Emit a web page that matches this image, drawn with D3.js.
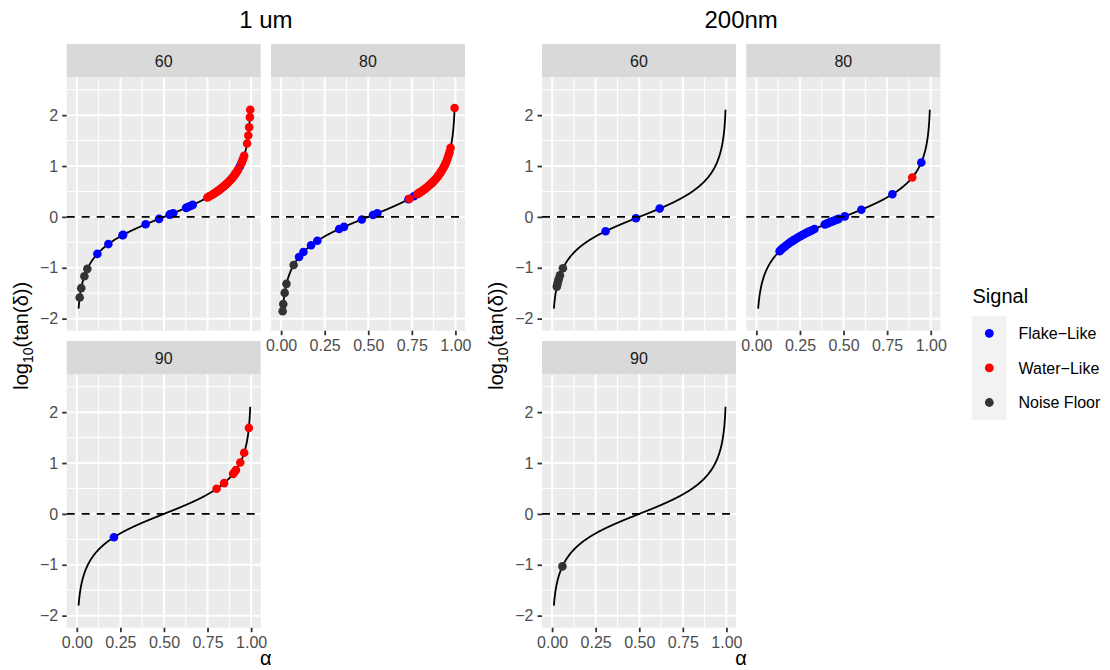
<!DOCTYPE html>
<html>
<head>
<meta charset="utf-8">
<script src="https://cdn.jsdelivr.net/npm/d3@7"></script>
<style>
  body { margin: 0; background: #fff; }
  svg { display: block; }
  text { font-family: "Liberation Sans", Arial, Helvetica, sans-serif; }
</style>
</head>
<body>
<svg id="chart" width="1110" height="670"></svg>
<script>
// ---- data -------------------------------------------------------------
const groups = ["1 um", "200nm"];
const facets = ["60", "80", "90"];
const signals = ["Flake\u2212Like", "Water\u2212Like", "Noise Floor"];
const signalColors = ["#0000FF", "#FF0000", "#333333"];

const xTicks = [0, 0.25, 0.5, 0.75, 1];
const xMinor = [0.125, 0.375, 0.625, 0.875];
const yTicks = [-2, -1, 0, 1, 2];
const yMinor = [-1.5, -0.5, 0.5, 1.5, 2.5];

// model curve range in alpha
const curveStart = 0.01;
const curveEnd = 0.995;

// observed alpha values for each group / angle / signal
const um1_60_flake = [0.118, 0.181, 0.262, 0.266, 0.395, 0.472, 0.532, 0.540, 0.553, 0.627, 0.640, 0.655, 0.665, 0.828, 0.935];
const um1_60_water = [0.749, 0.760, 0.771, 0.782, 0.791, 0.800, 0.808, 0.815, 0.820, 0.837, 0.843, 0.850, 0.856, 0.861, 0.868, 0.873, 0.880, 0.886, 0.891, 0.897, 0.902, 0.908, 0.912, 0.917, 0.922, 0.926, 0.943, 0.947, 0.951, 0.955, 0.960, 0.977, 0.984, 0.989, 0.993, 0.995];
const um1_60_noise = [0.0166, 0.0253, 0.0434, 0.0604];

const um1_80_flake = [0.103, 0.128, 0.172, 0.208, 0.333, 0.361, 0.463, 0.527, 0.552, 0.731, 0.762];
const um1_80_water = [0.736, 0.781, 0.786, 0.793, 0.798, 0.805, 0.811, 0.816, 0.823, 0.828, 0.834, 0.841, 0.846, 0.852, 0.857, 0.864, 0.869, 0.875, 0.882, 0.887, 0.893, 0.899, 0.904, 0.911, 0.916, 0.922, 0.928, 0.933, 0.939, 0.944, 0.950, 0.955, 0.961, 0.966, 0.972, 0.9954];
const um1_80_noise = [0.0089, 0.0123, 0.0204, 0.0307, 0.072];

const um1_90_flake = [0.213];
const um1_90_water = [0.802, 0.845, 0.897, 0.905, 0.913, 0.938, 0.960, 0.987];
const um1_90_noise = [];

const nm200_60_flake = [0.307, 0.481, 0.617];
const nm200_60_water = [];
const nm200_60_noise = [0.027, 0.029, 0.033, 0.038, 0.045, 0.062];

const nm200_80_flake = [0.133, 0.141, 0.149, 0.158, 0.166, 0.176, 0.184, 0.195, 0.203, 0.214, 0.222, 0.233, 0.241, 0.252, 0.261, 0.272, 0.280, 0.291, 0.299, 0.310, 0.319, 0.333, 0.392, 0.401, 0.411, 0.419, 0.430, 0.439, 0.449, 0.461, 0.472, 0.507, 0.602, 0.780, 0.946];
const nm200_80_water = [0.894];
const nm200_80_noise = [];

const nm200_90_flake = [];
const nm200_90_water = [];
const nm200_90_noise = [0.059];

const pointSets = {
  "1 um": {
    "60": [um1_60_flake, um1_60_water, um1_60_noise],
    "80": [um1_80_flake, um1_80_water, um1_80_noise],
    "90": [um1_90_flake, um1_90_water, um1_90_noise]
  },
  "200nm": {
    "60": [nm200_60_flake, nm200_60_water, nm200_60_noise],
    "80": [nm200_80_flake, nm200_80_water, nm200_80_noise],
    "90": [nm200_90_flake, nm200_90_water, nm200_90_noise]
  }
};

// loss tangent model: delta = alpha * 90 degrees
const logTanDelta = a => Math.log10(Math.tan(a * Math.PI / 2));

// ---- layout -----------------------------------------------------------
const PANEL_W = 194, PANEL_H = 253.2, STRIP_H = 33.5, GAP = 10.3, TOP = 44;
const groupLeft = { "1 um": 66.7, "200nm": 542 };
const facetCell = { "60": [0, 0], "80": [1, 0], "90": [0, 1] };

const x = d3.scaleLinear().domain([-0.058, 1.055]).range([0, PANEL_W]);
const y = d3.scaleLinear().domain([-2.237, 2.74]).range([PANEL_H, 0]);

const svg = d3.select("#chart");
const minus = v => (v < 0 ? "\u2212" + Math.abs(v) : String(v));

const curveData = d3.range(0, 401).map(i => curveStart + (curveEnd - curveStart) * i / 400);
const line = d3.line().x(a => x(a)).y(a => y(logTanDelta(a)));

groups.forEach(g => {
  const gx = groupLeft[g];
  const groupW = 2 * PANEL_W + GAP;

  // group title
  svg.append("text")
    .attr("x", gx + groupW / 2).attr("y", 28)
    .attr("text-anchor", "middle")
    .attr("font-size", 24).attr("fill", "#000")
    .text(g);

  facets.forEach(f => {
    const [c, r] = facetCell[f];
    const px = gx + c * (PANEL_W + GAP);
    const sy = TOP + r * (STRIP_H + PANEL_H + GAP);
    const py = sy + STRIP_H;

    // strip
    svg.append("rect").attr("x", px).attr("y", sy)
      .attr("width", PANEL_W).attr("height", STRIP_H).attr("fill", "#D9D9D9");
    svg.append("text").attr("x", px + PANEL_W / 2).attr("y", sy + STRIP_H / 2)
      .attr("dy", "0.36em").attr("text-anchor", "middle")
      .attr("font-size", 16).attr("fill", "#1A1A1A").text(f);

    const p = svg.append("g").attr("transform", `translate(${px},${py})`);
    p.append("rect").attr("width", PANEL_W).attr("height", PANEL_H).attr("fill", "#EBEBEB");

    // grid
    p.selectAll(".xminor").data(xMinor).join("line")
      .attr("x1", d => x(d)).attr("x2", d => x(d)).attr("y1", 0).attr("y2", PANEL_H)
      .attr("stroke", "#fff").attr("stroke-width", 1);
    p.selectAll(".yminor").data(yMinor).join("line")
      .attr("y1", d => y(d)).attr("y2", d => y(d)).attr("x1", 0).attr("x2", PANEL_W)
      .attr("stroke", "#fff").attr("stroke-width", 1);
    p.selectAll(".xmajor").data(xTicks).join("line")
      .attr("x1", d => x(d)).attr("x2", d => x(d)).attr("y1", 0).attr("y2", PANEL_H)
      .attr("stroke", "#fff").attr("stroke-width", 2);
    p.selectAll(".ymajor").data(yTicks).join("line")
      .attr("y1", d => y(d)).attr("y2", d => y(d)).attr("x1", 0).attr("x2", PANEL_W)
      .attr("stroke", "#fff").attr("stroke-width", 2);

    // model curve
    p.append("path").datum(curveData).attr("d", line)
      .attr("fill", "none").attr("stroke", "#000").attr("stroke-width", 1.8);

    // points: flake, water, noise
    pointSets[g][f].forEach((vals, si) => {
      p.selectAll(null).data(vals).join("circle")
        .attr("cx", a => x(a)).attr("cy", a => y(logTanDelta(a)))
        .attr("r", 4.3).attr("fill", signalColors[si]);
    });

    // zero reference
    p.append("line").attr("x1", 0).attr("x2", PANEL_W).attr("y1", y(0)).attr("y2", y(0))
      .attr("stroke", "#000").attr("stroke-width", 1.9).attr("stroke-dasharray", "8,7");

    // axes
    const styleAxis = ax => {
      ax.select(".domain").remove();
      ax.selectAll(".tick line").attr("stroke", "#333333").attr("stroke-width", 1.8);
      ax.selectAll(".tick text").attr("fill", "#4D4D4D").attr("font-size", 16)
        .attr("font-family", "\"Liberation Sans\", Arial, Helvetica, sans-serif");
    };
    if (c === 0) {
      p.append("g").call(d3.axisLeft(y).tickValues(yTicks).tickSize(4.5).tickPadding(4).tickFormat(minus))
        .call(styleAxis);
    }
    if (f === "80" || f === "90") {
      p.append("g").attr("transform", `translate(0,${PANEL_H})`)
        .call(d3.axisBottom(x).tickValues(xTicks).tickSize(4.5).tickPadding(4).tickFormat(d3.format(".2f")))
        .call(styleAxis);
    }
  });

  // axis titles
  const yt = svg.append("text")
    .attr("transform", `translate(${gx - 39},${(TOP + 627.7) / 2}) rotate(-90)`)
    .attr("text-anchor", "middle").attr("font-size", 20).attr("fill", "#000");
  yt.append("tspan").text("log");
  yt.append("tspan").attr("font-size", 14).attr("dy", 5).text("10");
  yt.append("tspan").attr("dy", -5).text("(tan(\u03B4))");

  svg.append("text").attr("x", gx + groupW / 2).attr("y", 665)
    .attr("text-anchor", "middle").attr("font-size", 20).attr("fill", "#000").text("\u03B1");
});

// ---- legend -----------------------------------------------------------
const lg = svg.append("g");
lg.append("text").attr("x", 972.5).attr("y", 303).attr("font-size", 20).attr("fill", "#000").text("Signal");
signals.forEach((s, i) => {
  const ky = 316 + i * 34.6;
  lg.append("rect").attr("x", 972).attr("y", ky).attr("width", 34.6).attr("height", 34.6).attr("fill", "#F2F2F2");
  lg.append("circle").attr("cx", 989.3).attr("cy", ky + 17.3).attr("r", 4.4).attr("fill", signalColors[i]);
  lg.append("text").attr("x", 1018.5).attr("y", ky + 17.3).attr("dy", "0.36em")
    .attr("font-size", 16).attr("fill", "#000").text(s);
});
</script>
</body>
</html>
